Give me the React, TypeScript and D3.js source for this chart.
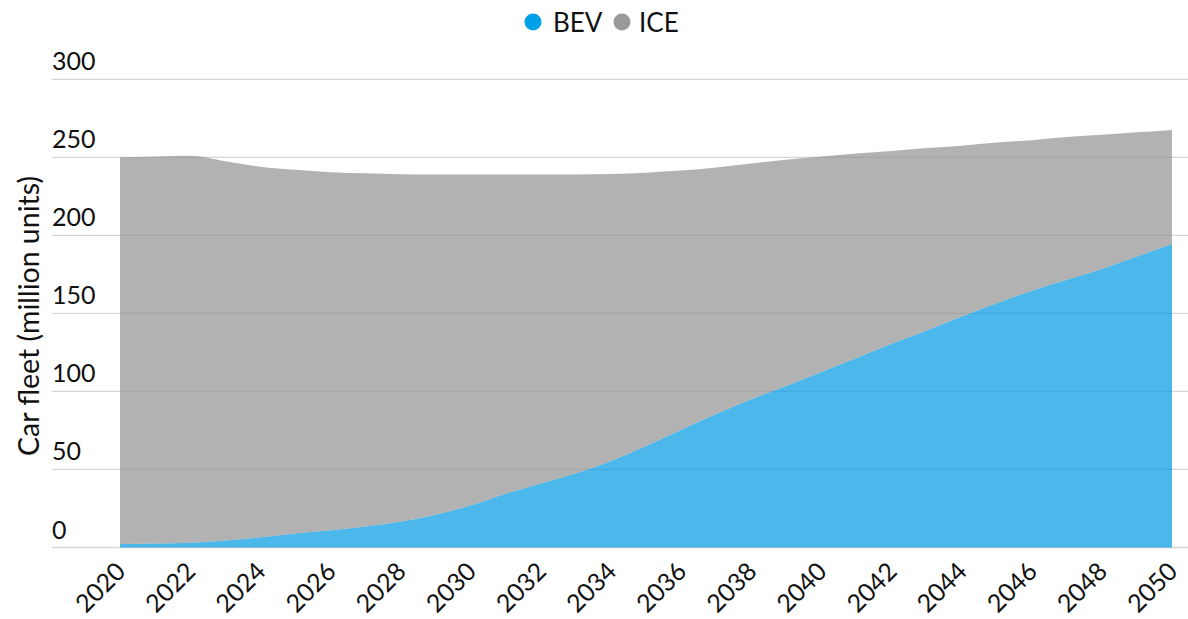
import React from "react";
import * as d3 from "d3";

const years = [2020,2021,2022,2023,2024,2025,2026,2027,2028,2029,2030,2031,2032,2033,2034,2035,2036,2037,2038,2039,2040,2041,2042,2043,2044,2045,2046,2047,2048,2049,2050];
const bev = [2.3,2.6,3,4.5,6.5,9,11,13.5,16.5,21,27,34.5,41,47.5,55.5,65,75.5,85.5,95,103.5,112.5,121.5,130.5,139,148,156.5,164.5,171.5,178.5,186.5,194.5];
const ice = [247.7,247.9,248,243,237.5,233,229.5,226.3,222.7,218,212,204.5,198,191.5,183.8,175.2,166,158,151,145,138,131,123.5,117,109.5,103,96.5,91.5,86,79.5,73];
const yTicks = [0,50,100,150,200,250,300];
const xTicks = [2020,2022,2024,2026,2028,2030,2032,2034,2036,2038,2040,2042,2044,2046,2048,2050];
const seriesNames = ["BEV","ICE"];
const seriesColors = ["#0098e2","#929292"];
const yLabel = "Car fleet (million units)";

const W = 1188, H = 619;
const FONT = "Lato, 'Open Sans', sans-serif";

export default function App() {
  const x = d3.scaleLinear().domain([2020, 2050]).range([120, 1172]);
  const y = d3.scaleLinear().domain([0, 300]).range([547.5, 79.3]);
  const rows = years.map((yr, i) => ({ year: yr, BEV: bev[i], ICE: ice[i] }));
  const stack = d3.stack<any>().keys(seriesNames);
  const layers = stack(rows);
  const area = d3.area<any>()
    .x((d: any) => x(d.data.year))
    .y0((d: any) => y(d[0]))
    .y1((d: any) => y(d[1]))
    .curve(d3.curveMonotoneX);

  return (
    <svg width={W} height={H} style={{ position: "absolute", left: 0, top: 0, background: "#fff" }} fontFamily={FONT}>
      {yTicks.map((t) => (
        <g key={t}>
          <line x1={52} x2={W} y1={y(t)} y2={y(t)} stroke="#d6d6d6" strokeWidth={1.3} />
          <text x={52} y={y(t) - 9} fontSize={25} fill="#111">{t}</text>
        </g>
      ))}
      {layers.map((layer, i) => (
        <path key={seriesNames[i]} d={area(layer as any) || ""} fill={seriesColors[i]} fillOpacity={0.7} />
      ))}
      {xTicks.map((t) => (
        <text key={t} transform={`translate(${x(t) + 7},${573}) rotate(-45)`} textAnchor="end" fontSize={25} fill="#111">{t}</text>
      ))}
      <text transform={`translate(39,316) rotate(-90)`} textAnchor="middle" fontSize={28.5} fill="#111">{yLabel}</text>
      <g>
        <circle cx={533} cy={22} r={8.5} fill="#00a0e6" />
        <text x={553} y={32} fontSize={26} fill="#111">{seriesNames[0]}</text>
        <circle cx={622} cy={22} r={8.5} fill="#999999" />
        <text x={639} y={32} fontSize={26} fill="#111">{seriesNames[1]}</text>
      </g>
    </svg>
  );
}
